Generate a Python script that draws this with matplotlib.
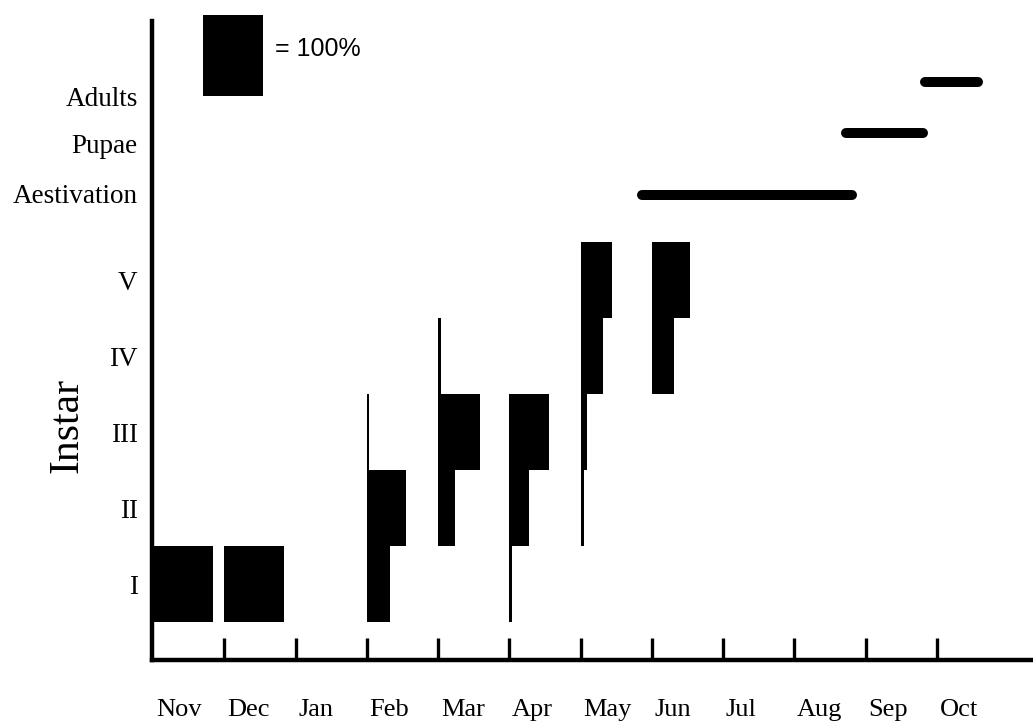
import matplotlib
matplotlib.use("Agg")
import matplotlib.pyplot as plt
from matplotlib.patches import Rectangle

# ---------------- data ----------------
months = ["Nov", "Dec", "Jan", "Feb", "Mar", "Apr", "May", "Jun", "Jul", "Aug", "Sep", "Oct"]
instars = ["I", "II", "III", "IV", "V"]
# percentage of the population in each instar (I..V) per month
pct_by_month = {
    "Nov": [100, 0, 0, 0, 0],
    "Dec": [100, 0, 0, 0, 0],
    "Jan": [0, 0, 0, 0, 0],
    "Feb": [38, 66, 4, 0, 0],
    "Mar": [0, 28, 70, 5, 0],
    "Apr": [5, 33, 66, 0, 0],
    "May": [0, 5, 11, 37, 52],
    "Jun": [0, 0, 0, 37, 63],
}
# later stages shown as periods (start, end in month units from Nov)
stage_names = ["Aestivation", "Pupae", "Adults"]
stage_start = [6.86, 9.72, 10.83]
stage_end = [9.81, 10.81, 11.58]
stage_label_y = [5.64, 6.30, 6.92]
stage_line_y = [5.62, 6.43, 7.11]
legend_pct = 100

# ---------------- style ----------------
SCALE = 0.842 / 100.0  # month units per percent
serif = ["Liberation Serif", "DejaVu Serif"]
sans = ["Liberation Sans", "DejaVu Sans"]

fig = plt.figure(figsize=(10.33, 7.22), dpi=100)
ax = fig.add_axes([0.1468, 0.0859, 0.8533, 0.885])
ax.set_xlim(-0.02, 12.35)
ax.set_ylim(-0.5, 7.91)

# instar bars
for mi, m in enumerate(months):
    if m not in pct_by_month:
        continue
    for ii, p in enumerate(pct_by_month[m]):
        if p <= 0:
            continue
        ax.barh(ii + 0.5, p * SCALE, height=1.0, left=mi,
                color="black", edgecolor="none", linewidth=0)

# stage lines
for s, e, y in zip(stage_start, stage_end, stage_line_y):
    ax.plot([s, e], [y, y], color="black", lw=7.2, solid_capstyle="round")

# legend box
ax.add_patch(Rectangle((0.70, 6.92), legend_pct * SCALE, 1.07,
                       facecolor="black", edgecolor="none", clip_on=False))
ax.text(1.71, 7.54, "= 100%", fontsize=18, family=sans, ha="left", va="center")

# spines
for side in ["top", "right"]:
    ax.spines[side].set_visible(False)
ax.spines["left"].set_linewidth(3.2)
ax.spines["bottom"].set_linewidth(3.2)

# x ticks: marks at Dec..Oct, labels left-aligned at each month
ax.set_xticks(range(1, len(months)))
ax.set_xticklabels([])
ax.tick_params(axis="x", which="major", direction="in", length=15.5, width=2.4)
for mi, m in enumerate(months):
    ax.annotate(m, xy=(mi, 0), xycoords=("data", "axes fraction"),
                xytext=(2, -40.3), textcoords="offset points",
                fontsize=19, family=serif, ha="left", va="baseline",
                annotation_clip=False)

# y ticks
ax.set_yticks([i + 0.5 for i in range(len(instars))] + stage_label_y)
ax.set_yticklabels(instars + stage_names, fontsize=19.5, family=serif)
ax.tick_params(axis="y", length=0, pad=10)

fig.text(67 / 1033, 1 - 425 / 722, "Instar", rotation=90, fontsize=30,
         family=serif, ha="center", va="center")

fig.savefig("out.png", dpi=100)
